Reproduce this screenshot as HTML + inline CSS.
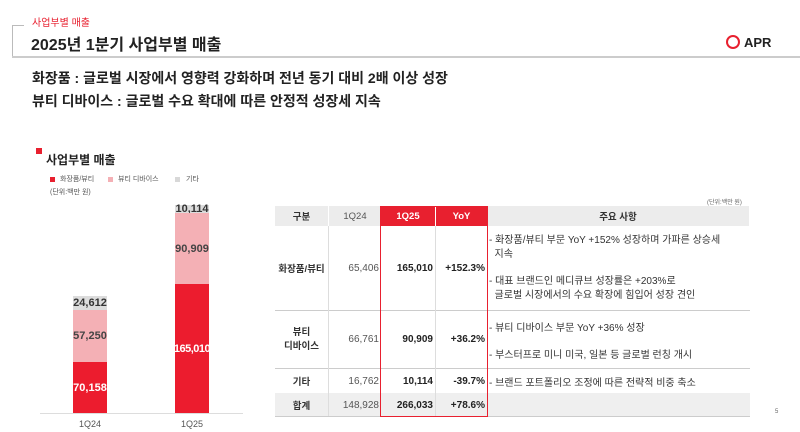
<!DOCTYPE html>
<html><head><meta charset="utf-8"><style>
*{margin:0;padding:0;box-sizing:border-box}
body{width:800px;height:432px;background:#fff;position:relative;overflow:hidden;font-family:"Liberation Sans","Noto Sans CJK KR",sans-serif;color:#333}
.a{position:absolute;white-space:nowrap}
.c{position:absolute;display:flex;align-items:center;justify-content:center;text-align:center}
.r{justify-content:flex-end;padding-right:2px}
.b{font-weight:bold}
.bar{position:absolute;display:flex;align-items:center;justify-content:center;font-weight:bold;font-size:11px}
</style></head><body>
<div class="a" style="left:12px;top:25px;width:12px;height:1px;background:#bbb"></div>
<div class="a" style="left:12px;top:25px;width:1px;height:32px;background:#bbb"></div>
<div class="a" style="left:12px;top:56px;width:788px;height:2px;background:#ccc"></div>
<div class="a" style="left:32px;top:14px;font-size:10px;color:#e8202f">사업부별 매출</div>
<div class="a b" style="left:31px;top:31px;font-size:16px;color:#222">2025년 1분기 사업부별 매출</div>
<div class="a" style="left:726px;top:35px;width:14px;height:14px;border:2px solid #e8202f;border-radius:50%"></div>
<div class="a b" style="left:744px;top:35px;font-size:13px;color:#222">APR</div>
<div class="a b" style="left:32px;top:68px;font-size:14px;color:#222">화장품 : 글로벌 시장에서 영향력 강화하며 전년 동기 대비 2배 이상 성장</div>
<div class="a b" style="left:32px;top:91px;font-size:14px;color:#222">뷰티 디바이스 : 글로벌 수요 확대에 따른 안정적 성장세 지속</div>

<div class="a" style="left:36px;top:148px;width:6px;height:6px;background:#e8202f"></div>
<div class="a b" style="left:46px;top:151px;font-size:12px;color:#222">사업부별 매출</div>
<div class="a" style="left:50px;top:177px;width:5px;height:5px;background:#e8202f"></div>
<div class="a" style="left:60px;top:174px;font-size:7px;color:#555">화장품/뷰티</div>
<div class="a" style="left:108px;top:177px;width:5px;height:5px;background:#f4b0b5"></div>
<div class="a" style="left:118px;top:174px;font-size:7px;color:#555">뷰티 디바이스</div>
<div class="a" style="left:175px;top:177px;width:5px;height:5px;background:#d8d8d8"></div>
<div class="a" style="left:186px;top:174px;font-size:7px;color:#555">기타</div>
<div class="a" style="left:50px;top:187px;font-size:7px;color:#555">(단위:백만 원)</div>

<div class="bar" style="left:73px;top:296px;width:34px;height:14px;background:#dcdcdc;color:#333">24,612</div>
<div class="bar" style="left:73px;top:310px;width:34px;height:52px;background:#f4b0b5;color:#444">57,250</div>
<div class="bar" style="left:73px;top:362px;width:34px;height:51px;background:#ec1c2e;color:#fff">70,158</div>
<div class="bar" style="left:175px;top:205px;width:34px;height:8px;background:#dcdcdc;color:#333">10,114</div>
<div class="bar" style="left:175px;top:213px;width:34px;height:71px;background:#f4b0b5;color:#444">90,909</div>
<div class="bar" style="left:175px;top:284px;width:34px;height:129px;background:#ec1c2e;color:#fff;letter-spacing:-0.5px">165,010</div>
<div class="a" style="left:40px;top:413px;width:203px;height:1px;background:#ddd"></div>
<div class="a" style="left:79px;top:419px;font-size:9px;color:#555">1Q24</div>
<div class="a" style="left:181px;top:419px;font-size:9px;color:#555">1Q25</div>

<div class="a" style="left:707px;top:197px;font-size:6px;color:#666">(단위:백만 원)</div>
<div class="c b" style="left:275px;top:206px;width:53px;height:20px;background:#ececec;font-size:9.5px;color:#333">구분</div>
<div class="c" style="left:328px;top:206px;width:53px;height:20px;background:#ececec;font-size:9.5px;color:#555;border-left:1px solid #fff">1Q24</div>
<div class="c b" style="left:381px;top:206px;width:54px;height:20px;background:#e8202f;font-size:9.5px;color:#fff">1Q25</div>
<div class="c b" style="left:435px;top:206px;width:52px;height:20px;background:#e8202f;font-size:9.5px;color:#fff;border-left:1px solid #fff">YoY</div>
<div class="c b" style="left:487px;top:206px;width:262px;height:20px;background:#ececec;font-size:9.5px;color:#333">주요 사항</div>
<div class="a" style="left:275px;top:310px;width:475px;height:1px;background:#ccc"></div>
<div class="a" style="left:275px;top:368px;width:475px;height:1px;background:#ccc"></div>
<div class="a" style="left:275px;top:393px;width:475px;height:1px;background:#ccc"></div>
<div class="a" style="left:275px;top:393px;width:475px;height:23px;background:#efefef"></div>
<div class="a" style="left:275px;top:416px;width:475px;height:1px;background:#ccc"></div>
<div class="a" style="left:328px;top:226px;width:1px;height:190px;background:#ddd"></div>
<div class="a" style="left:435px;top:226px;width:1px;height:190px;background:#ddd"></div>

<div class="c b" style="left:275px;top:226px;width:53px;height:84px;font-size:9.5px">화장품/뷰티</div>
<div class="c r" style="left:328px;top:226px;width:53px;height:84px;font-size:10px;color:#555">65,406</div>
<div class="c r b" style="left:381px;top:226px;width:54px;height:84px;font-size:10px;color:#222">165,010</div>
<div class="c r b" style="left:435px;top:226px;width:52px;height:84px;font-size:10px;color:#222">+152.3%</div>
<div class="a" style="left:489px;top:234px;font-size:10px;line-height:14px;color:#333">- 화장품/뷰티 부문 YoY +152% 성장하며 가파른 상승세<br>&nbsp;&nbsp;지속</div>
<div class="a" style="left:489px;top:275px;font-size:10px;line-height:14px;color:#333">- 대표 브랜드인 메디큐브 성장률은 +203%로<br>&nbsp;&nbsp;글로벌 시장에서의 수요 확장에 힘입어 성장 견인</div>

<div class="c b" style="left:275px;top:311px;width:53px;height:57px;font-size:9.5px;line-height:14px">뷰티<br>디바이스</div>
<div class="c r" style="left:328px;top:311px;width:53px;height:57px;font-size:10px;color:#555">66,761</div>
<div class="c r b" style="left:381px;top:311px;width:54px;height:57px;font-size:10px;color:#222">90,909</div>
<div class="c r b" style="left:435px;top:311px;width:52px;height:57px;font-size:10px;color:#222">+36.2%</div>
<div class="a" style="left:489px;top:319px;font-size:10px;color:#333">- 뷰티 디바이스 부문 YoY +36% 성장</div>
<div class="a" style="left:489px;top:346px;font-size:10px;color:#333">- 부스터프로 미니 미국, 일본 등 글로벌 런칭 개시</div>

<div class="c b" style="left:275px;top:369px;width:53px;height:24px;font-size:9.5px">기타</div>
<div class="c r" style="left:328px;top:369px;width:53px;height:24px;font-size:10px;color:#555">16,762</div>
<div class="c r b" style="left:381px;top:369px;width:54px;height:24px;font-size:10px;color:#222">10,114</div>
<div class="c r b" style="left:435px;top:369px;width:52px;height:24px;font-size:10px;color:#222">-39.7%</div>
<div class="a" style="left:489px;top:374px;font-size:10px;color:#333">- 브랜드 포트폴리오 조정에 따른 전략적 비중 축소</div>

<div class="c b" style="left:275px;top:394px;width:53px;height:22px;font-size:9.5px">합계</div>
<div class="c r" style="left:328px;top:394px;width:53px;height:22px;font-size:10px;color:#555">148,928</div>
<div class="c r b" style="left:381px;top:394px;width:54px;height:22px;font-size:10px;color:#222">266,033</div>
<div class="c r b" style="left:435px;top:394px;width:52px;height:22px;font-size:10px;color:#222">+78.6%</div>

<div class="a" style="left:380px;top:206px;width:108px;height:211px;border:1.5px solid #e8202f"></div>
<div class="a" style="left:775px;top:409px;font-size:6px;color:#666">5</div>
</body></html>
